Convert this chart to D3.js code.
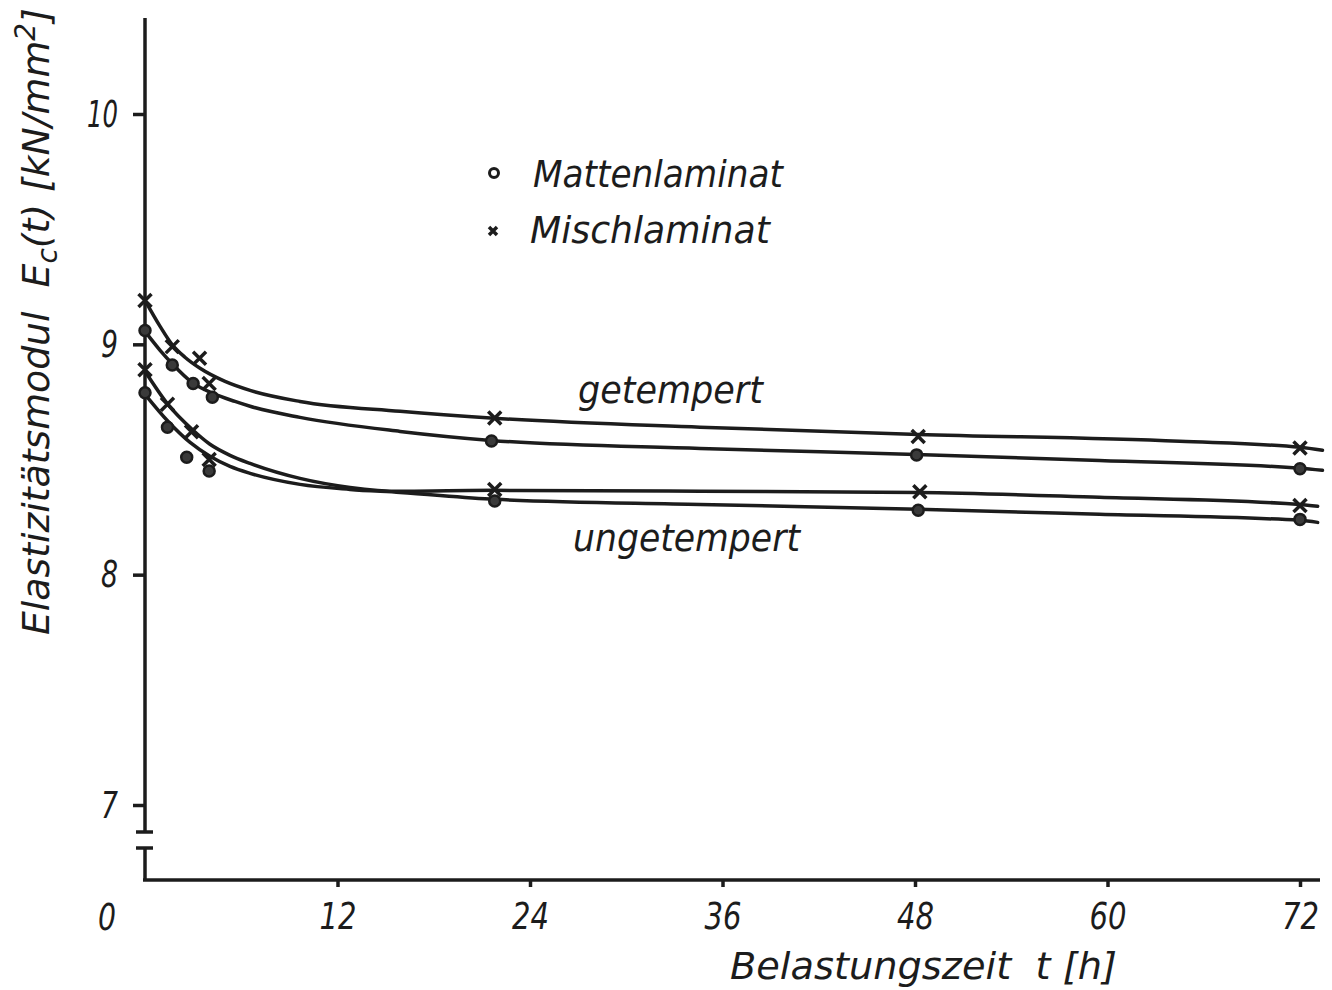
<!DOCTYPE html>
<html>
<head>
<meta charset="utf-8">
<script src="https://cdn.jsdelivr.net/npm/d3@7"></script>
<style>
  body { margin: 0; background: #fff; }
  svg { display: block; }
  text { font-family: "DejaVu Sans", sans-serif; font-style: italic; fill: #1c1c1c; white-space: pre; }
</style>
</head>
<body>
<svg id="chart" width="1332" height="990"></svg>
<script>
// ticks
const tTicks = [12, 24, 36, 48, 60, 72];
const vTicks = [7, 8, 9, 10];

// measured points [t (h), E (kN/mm2)]
const getMischPts = [[0, 9.19], [1.7, 8.99], [3.4, 8.94], [4.0, 8.83], [21.8, 8.68], [48.2, 8.60], [72, 8.55]];
const getMattenPts = [[0, 9.06], [1.7, 8.91], [3.0, 8.83], [4.2, 8.77], [21.6, 8.58], [48.1, 8.52], [72, 8.46]];
const ungMischPts = [[0, 8.89], [1.4, 8.74], [2.9, 8.62], [4.0, 8.50], [21.8, 8.37], [48.3, 8.36], [72, 8.30]];
const ungMattenPts = [[0, 8.79], [1.4, 8.64], [2.6, 8.51], [4.0, 8.45], [21.8, 8.32], [48.2, 8.28], [72, 8.24]];

// hand drawn fit curves
const getMischCurve = [[0, 9.191], [0.94, 9.078], [1.68, 9.0], [2.49, 8.944], [3.43, 8.896], [4.99, 8.839], [6.55, 8.80], [9.66, 8.752], [15.9, 8.709], [21.76, 8.679], [34.6, 8.64], [48.2, 8.609], [64.5, 8.579], [72, 8.553], [73.4, 8.54]];
const getMattenCurve = [[0, 9.056], [0.94, 8.974], [1.68, 8.917], [2.93, 8.835], [4.24, 8.787], [5.61, 8.752], [6.55, 8.731], [9.66, 8.683], [15.9, 8.622], [21.57, 8.583], [34.6, 8.548], [48.07, 8.522], [59.5, 8.496], [72, 8.462], [73.4, 8.453]];
const ungMischCurve = [[0, 8.883], [1.43, 8.739], [2.93, 8.631], [4.05, 8.566], [5.3, 8.518], [6.55, 8.483], [9.66, 8.418], [12.78, 8.379], [15.9, 8.362], [21.82, 8.366], [34.6, 8.362], [48.2, 8.357], [59.5, 8.336], [72, 8.305], [73.1, 8.297]];
const ungMattenCurve = [[0, 8.783], [1.43, 8.666], [2.81, 8.574], [4.05, 8.514], [5.3, 8.47], [6.55, 8.44], [9.66, 8.392], [12.78, 8.37], [15.9, 8.357], [21.82, 8.327], [34.6, 8.305], [48.2, 8.284], [59.5, 8.262], [72, 8.236], [73.1, 8.227]];

const ink = "#1c1c1c";
const svg = d3.select("#chart");

const x = d3.scaleLinear().domain([0, 72]).range([145, 1300]);
const y = d3.scaleLinear().domain([7, 10]).range([805, 114]);

// squeeze text horizontally to a target width
function fit(sel, width) {
  sel.each(function () {
    const len = this.getComputedTextLength();
    d3.select(this).attr("transform", `scale(${width / len},1)`);
  });
}

function label(px, py, str, width, rot = 0) {
  const g = svg.append("g").attr("transform", `translate(${px},${py}) rotate(${rot})`);
  const t = g.append("text").attr("font-size", 38).text(str);
  fit(t, width);
  return t;
}

// y axis
const yAxis = svg.append("g")
  .attr("transform", "translate(145,0)")
  .call(d3.axisLeft(y).tickValues(vTicks).tickFormat(d3.format("d")).tickSize(12).tickPadding(15))
  .call(g => g.select(".domain").remove());
yAxis.attr("font-size", 38).attr("font-family", null);
yAxis.selectAll(".tick line").attr("stroke", ink).attr("stroke-width", 3.5);
yAxis.selectAll(".tick text").attr("fill", ink).each(function (d) {
  const len = this.getComputedTextLength();
  const k = (String(d).length > 1 ? 31 : 17) / len;
  d3.select(this).attr("transform", `scale(${k},1)`).attr("x", -27 / k);
});

// x axis
const xAxis = svg.append("g")
  .attr("transform", "translate(0,880)")
  .call(d3.axisBottom(x).tickValues(tTicks).tickSize(7).tickPadding(15))
  .call(g => g.select(".domain").remove());
xAxis.attr("font-size", 38).attr("font-family", null);
xAxis.selectAll(".tick line").attr("stroke", ink).attr("stroke-width", 3.5);
xAxis.selectAll(".tick text").attr("fill", ink).each(function () {
  const len = this.getComputedTextLength();
  const k = 37 / len;
  d3.select(this).attr("transform", `scale(${k},1)`);
});

// axis lines with break
const axisLines = svg.append("g").attr("stroke", ink).attr("stroke-width", 3.5).attr("fill", "none");
axisLines.append("line").attr("x1", 145).attr("x2", 145).attr("y1", 18).attr("y2", 832);
axisLines.append("line").attr("x1", 145).attr("x2", 145).attr("y1", 848).attr("y2", 881);
axisLines.append("line").attr("x1", 136).attr("x2", 153).attr("y1", 832).attr("y2", 832);
axisLines.append("line").attr("x1", 136).attr("x2", 153).attr("y1", 848).attr("y2", 848);
axisLines.append("line").attr("x1", 143).attr("x2", 1320).attr("y1", 880).attr("y2", 880);

// zero label
const zero = svg.append("g").attr("transform", "translate(107,930)");
zero.append("text").attr("font-size", 38).attr("text-anchor", "middle").text("0")
  .call(s => fit(s, 18));

// curves
const line = d3.line().x(d => x(d[0])).y(d => y(d[1])).curve(d3.curveMonotoneX);
const curves = [getMischCurve, getMattenCurve, ungMischCurve, ungMattenCurve];
svg.append("g").selectAll("path").data(curves).join("path")
  .attr("d", line)
  .attr("fill", "none")
  .attr("stroke", ink)
  .attr("stroke-width", 3.5)
  .attr("stroke-linecap", "round");

// markers
const crossPath = s => `M${-s},${-s}L${s},${s}M${-s},${s}L${s},${-s}`;
svg.append("g").selectAll("path").data(getMischPts.concat(ungMischPts)).join("path")
  .attr("transform", d => `translate(${x(d[0])},${y(d[1])})`)
  .attr("d", crossPath(6.5))
  .attr("stroke", ink).attr("stroke-width", 3.5).attr("fill", "none");
svg.append("g").selectAll("circle").data(getMattenPts.concat(ungMattenPts)).join("circle")
  .attr("cx", d => x(d[0])).attr("cy", d => y(d[1]))
  .attr("r", 5.5)
  .attr("fill", "#3a3a3a").attr("stroke", ink).attr("stroke-width", 2.5);

// legend
svg.append("circle").attr("cx", 494).attr("cy", 173).attr("r", 4.5)
  .attr("fill", "none").attr("stroke", ink).attr("stroke-width", 3);
svg.append("path").attr("transform", "translate(493,231)").attr("d", crossPath(4))
  .attr("stroke", ink).attr("stroke-width", 3.5);
label(533, 187, "Mattenlaminat", 250);
label(530, 243, "Mischlaminat", 240);

// curve labels
label(578, 403, "getempert", 185);
label(573, 551, "ungetempert", 227);

// axis titles
label(730, 979, "Belastungszeit  t [h]", 387);

const yt = svg.append("g").attr("transform", "translate(49,635) rotate(-90)")
  .append("text").attr("font-size", 38);
yt.append("tspan").text("Elastizitätsmodul  E");
yt.append("tspan").attr("font-size", 28).attr("dy", 8).text("c");
yt.append("tspan").attr("dy", -8).text("(t) [kN/mm");
yt.append("tspan").attr("font-size", 28).attr("dy", -14).text("2");
yt.append("tspan").attr("dy", 14).text("]");
fit(yt, 627);
</script>
</body>
</html>
